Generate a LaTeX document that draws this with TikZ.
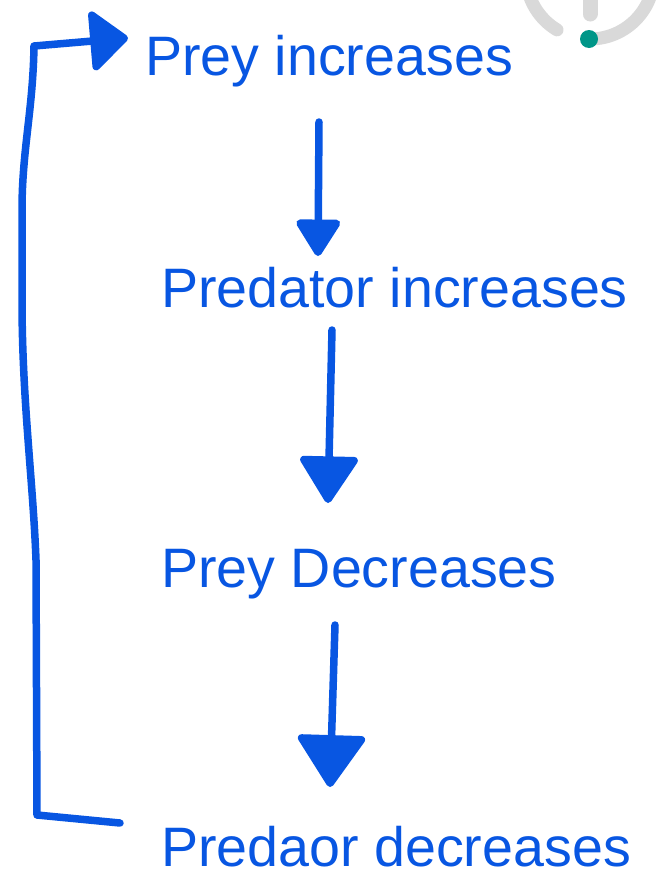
\documentclass[tikz,border=0pt]{standalone}
\usepackage{fontspec}
\setmainfont{Liberation Sans}
\usetikzlibrary{arrows.meta}
\definecolor{prdblue}{RGB}{8,86,226}
\definecolor{ringgray}{RGB}{217,217,217}
\definecolor{dotteal}{RGB}{0,150,136}
\begin{document}
\begin{tikzpicture}[x=1pt,y=-1pt,
  lbl/.style={anchor=base west,inner sep=0pt,text=prdblue,
    font=\fontsize{55.6}{60}\selectfont},
  link/.style={draw=prdblue,line width=7.5pt,line cap=round,line join=round}]
\useasboundingbox (0,0) rectangle (658,876);
%
\node[lbl] (preyup) at (145,75) {Prey increases};
\node[lbl] (predup) at (161,307) {Predator increases};
\node[lbl] (preydn) at (161,587) {Prey Decreases};
\node[lbl] (preddn) at (161,866) {Predaor decreases};
%
\coordinate (a1) at (319,122);
\coordinate (a1e) at (318,256);
\coordinate (a2) at (332,330);
\coordinate (a2e) at (328,503);
\coordinate (a3) at (335,625);
\coordinate (a3e) at (330,787);
\coordinate (b0) at (120,823);
\coordinate (b1) at (128,38);
%
\draw[link,-{Triangle[width=48pt,length=40pt,round]}] (a1)--(a1e);
\draw[link,-{Triangle[width=62pt,length=50pt,round]}] (a2)--(a2e);
\draw[link,-{Triangle[width=72pt,length=55pt,round]}] (a3)--(a3e);
\draw[link,-{Triangle[width=66pt,length=40pt,round]}] (b0)--(37,815)--(36,560)
  .. controls (33,480) and (22,400) .. (22,300)--(22,210)
  .. controls (22,150) and (33,110) .. (34,46)--(b1);
%
\begin{scope}
\clip (0,0) rectangle (658,876);
\draw[ringgray,line width=13pt,line cap=round] (590,-25) ++(121:64)
  arc[start angle=121,end angle=444,radius=64];
\draw[ringgray,line width=15pt,line cap=round] (590,-20)--(590,14);
\fill[dotteal] (589,39) circle[radius=9];
\end{scope}
\end{tikzpicture}
\end{document}
